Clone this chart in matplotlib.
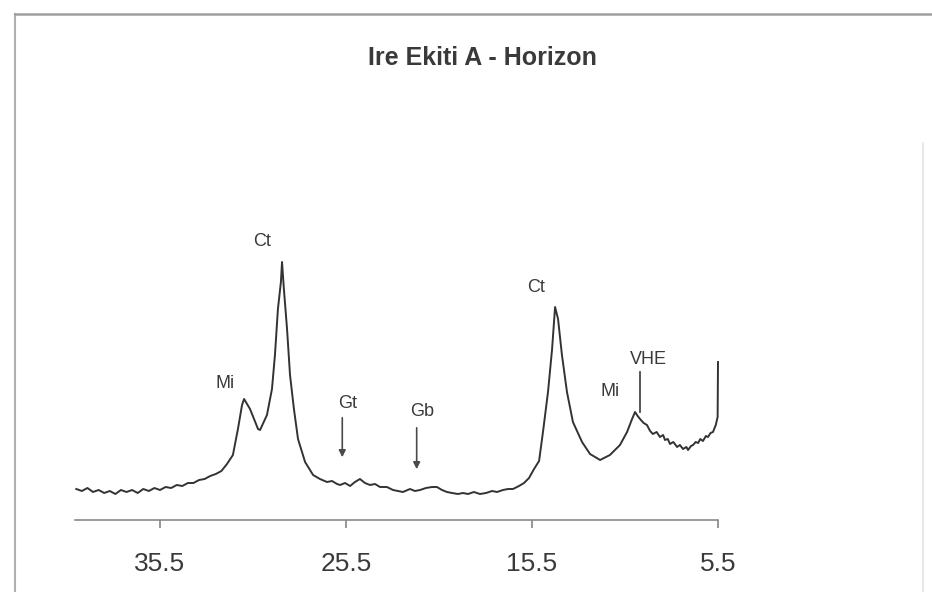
import matplotlib.pyplot as plt
from matplotlib.lines import Line2D

plt.rcParams['font.family'] = ['Liberation Sans', 'DejaVu Sans']

# diffractogram (2-theta, relative intensity)
two_theta = [40.0, 39.7, 39.4, 39.1, 38.8, 38.5, 38.2, 37.9, 37.6, 37.3,
             37.0, 36.7, 36.4, 36.1, 35.8, 35.5, 35.2, 34.9, 34.6, 34.3,
             34.0, 33.7, 33.4, 33.1, 32.8, 32.5, 32.2, 31.9, 31.58, 31.31,
             31.09, 30.98, 30.66, 30.23, 30.12, 29.75, 29.48, 29.32, 29.16, 29.0,
             28.94, 28.84, 28.67, 28.51, 28.3, 28.08, 27.7, 27.27, 26.9, 26.52,
             26.25, 25.98, 25.82, 25.55, 25.28, 25.02, 24.75, 24.48, 24.21, 23.94,
             23.67, 23.3, 22.97, 22.7, 22.44, 22.06, 21.79, 21.52, 21.2, 20.88,
             20.61, 20.34, 20.07, 19.8, 19.48, 19.21, 18.94, 18.62, 18.3, 17.97,
             17.65, 17.38, 17.06, 16.79, 16.52, 16.2, 15.93, 15.66, 15.39, 15.12,
             14.91, 14.64, 14.42, 14.26, 14.1, 13.89, 13.62, 13.3, 12.81, 12.38,
             11.84, 11.31, 10.77, 10.39, 10.12, 9.96, 9.82, 9.69, 9.5, 9.32,
             9.15, 9.0, 8.8, 8.62, 8.45, 8.35, 8.2, 8.08, 7.9, 7.7,
             7.55, 7.38, 7.2, 7.11, 6.95, 6.84, 6.7, 6.57, 6.45, 6.31,
             6.15, 6.04, 5.9, 5.77, 5.62, 5.52, 5.5]
intensity = [32, 30, 33, 29, 31, 28, 30, 27, 31, 29,
             31, 28, 32, 30, 33, 31, 34, 33, 36, 35,
             38, 38, 41, 42, 45, 47, 50, 57, 66, 92,
             116, 122, 112, 92, 91, 106, 132, 166, 212, 239,
             259, 232, 192, 146, 112, 82, 59, 46, 42, 39,
             40, 37, 36, 38, 35, 39, 42, 38, 36, 37,
             34, 34, 31, 30, 29, 32, 30, 31, 33, 34,
             34, 31, 29, 28, 27, 28, 27, 29, 27, 28,
             30, 29, 31, 32, 32, 35, 38, 43, 52, 60,
             89, 129, 172, 214, 202, 166, 129, 99, 79, 67,
             61, 66, 76, 89, 102, 109, 105, 102, 98, 96,
             90, 87, 89, 84, 86, 81, 82, 77, 79, 74,
             76, 72, 74, 71, 75, 76, 79, 78, 82, 80,
             85, 84, 88, 89, 96, 104, 159]

tick_pos = [35.5, 25.5, 15.5, 5.5]

# peak labels: text, 2-theta, intensity
labels = ['Mi', 'Ct', 'Gt', 'Gb', 'Ct', 'Mi', 'VHE']
label_x = [32.0, 30.0, 25.4, 21.4, 15.3, 11.3, 9.25]
label_y = [137, 280, 117, 109, 234, 129, 161]

# arrows for minor phases: 2-theta, top, bottom
arrow_x = [25.7, 21.7]
arrow_top = [106, 96]
arrow_bot = [61, 49]
vhe_x = 9.69
vhe_top, vhe_bot = 149, 109

fig = plt.figure(figsize=(9.32, 5.92), dpi=100)
ax = fig.add_axes([75 / 932, 1 - 520 / 592, (718 - 75) / 932, 420 / 592])

ax.plot(two_theta, intensity, color='#333333', lw=1.4, clip_on=False)
ax.set_xlim(40.07, 5.5)
ax.set_ylim(1, 421)

for s in ['top', 'left', 'right']:
    ax.spines[s].set_visible(False)
ax.spines['bottom'].set_color('#8a8a8a')
ax.spines['bottom'].set_linewidth(1.2)
ax.set_yticks([])
ax.set_xticks(tick_pos)
ax.set_xticklabels(['%.1f' % t for t in tick_pos])
ax.tick_params(axis='x', direction='out', length=6, width=1.1, color='#7a7a7a',
               pad=17, labelsize=19, labelcolor='#3a3a3a')

for t, x, y in zip(labels, label_x, label_y):
    ax.text(x, y, t, ha='center', va='center', fontsize=13, color='#3a3a3a')

for x, y1, y0 in zip(arrow_x, arrow_top, arrow_bot):
    ax.annotate('', xy=(x, y0), xytext=(x, y1),
                arrowprops=dict(arrowstyle='-|>', color='#4a4a4a', lw=1.2,
                                mutation_scale=10))
ax.plot([vhe_x, vhe_x], [vhe_top, vhe_bot], color='#4a4a4a', lw=1.3)

fig.text(482 / 932, 1 - 58 / 592, 'Ire Ekiti A - Horizon', ha='center', va='center',
         fontsize=18, fontweight='bold', color='#3a3a3a')

# scanned chart frame
fig.add_artist(Line2D([15 / 932, 15 / 932], [0, 1 - 14 / 592], color='#b0b0b0', lw=1.5))
fig.add_artist(Line2D([15 / 932, 1], [1 - 14 / 592, 1 - 14 / 592], color='#a0a0a0', lw=1.8))
fig.add_artist(Line2D([923 / 932, 923 / 932], [0, 1 - 143 / 592], color='#e4e4e4', lw=1.2))

fig.savefig('out.png', dpi=100)
